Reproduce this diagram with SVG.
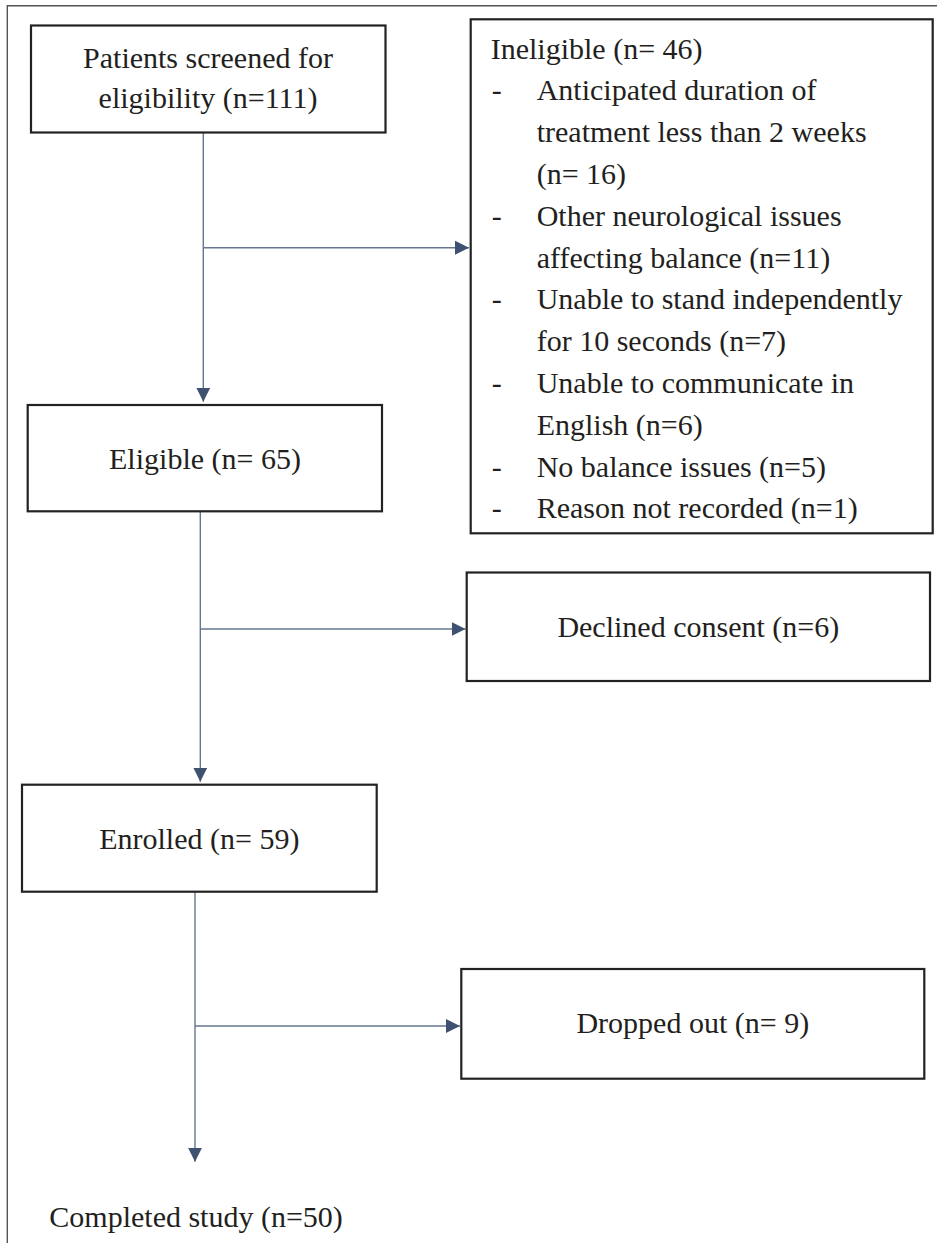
<svg xmlns="http://www.w3.org/2000/svg" width="937" height="1243" viewBox="0 0 937 1243">
<style>
.box{fill:#fff;stroke:#222;stroke-width:2.2}
.t{font-family:"Liberation Serif","Times New Roman",serif;font-size:30px;fill:#231f20}
.c{text-anchor:middle}
.con{fill:none;stroke:#66768f;stroke-width:1.4}
</style>
<defs>
<marker id="ah" viewBox="0 0 14 14" refX="14" refY="7" markerWidth="14" markerHeight="14" markerUnits="userSpaceOnUse" orient="auto">
<path d="M0,0 L14,7 L0,14 z" fill="#3f5170"/>
</marker>
</defs>
<rect width="937" height="1243" fill="#fff"/>
<path d="M7.3,1243 V5.7 H937" fill="none" stroke="#555" stroke-width="1.4"/>
<g id="connectors">
<path class="con" d="M203.3,132 V401.7" marker-end="url(#ah)"/>
<path class="con" d="M203.3,247.7 H469" marker-end="url(#ah)"/>
<path class="con" d="M200.3,511 V781.7" marker-end="url(#ah)"/>
<path class="con" d="M200.3,629 H465.5" marker-end="url(#ah)"/>
<path class="con" d="M195,891.7 V1161.7" marker-end="url(#ah)"/>
<path class="con" d="M195,1026 H460" marker-end="url(#ah)"/>
</g>
<g id="screened">
<rect class="box" x="31" y="25.5" width="354.5" height="107"/>
<text class="t c" x="208" y="68.3">Patients screened for</text>
<text class="t c" x="208" y="108.3">eligibility (n=111)</text>
</g>
<g id="ineligible">
<rect class="box" x="470.7" y="19.3" width="462" height="514"/>
<text class="t" x="490.7" y="59">Ineligible (n= 46)</text>
<text class="t" x="491.7" y="100.3">-</text>
<text class="t" x="536.7" y="100.3">Anticipated duration of</text>
<text class="t" x="536.7" y="142.1">treatment less than 2 weeks</text>
<text class="t" x="536.7" y="183.9">(n= 16)</text>
<text class="t" x="491.7" y="225.7">-</text>
<text class="t" x="536.7" y="225.7">Other neurological issues</text>
<text class="t" x="536.7" y="267.5">affecting balance (n=11)</text>
<text class="t" x="491.7" y="309.3">-</text>
<text class="t" x="536.7" y="309.3">Unable to stand independently</text>
<text class="t" x="536.7" y="351.1">for 10 seconds (n=7)</text>
<text class="t" x="491.7" y="392.9">-</text>
<text class="t" x="536.7" y="392.9">Unable to communicate in</text>
<text class="t" x="536.7" y="434.7">English (n=6)</text>
<text class="t" x="491.7" y="476.5">-</text>
<text class="t" x="536.7" y="476.5">No balance issues (n=5)</text>
<text class="t" x="491.7" y="518.3">-</text>
<text class="t" x="536.7" y="518.3">Reason not recorded (n=1)</text>
</g>
<g id="eligible">
<rect class="box" x="27.7" y="405" width="354.3" height="106.3"/>
<text class="t c" x="205" y="469">Eligible (n= 65)</text>
</g>
<g id="declined">
<rect class="box" x="466.7" y="572.5" width="463.3" height="108.5"/>
<text class="t c" x="698.3" y="636.7">Declined consent (n=6)</text>
</g>
<g id="enrolled">
<rect class="box" x="22" y="784.7" width="354.7" height="107"/>
<text class="t c" x="199.3" y="849">Enrolled (n= 59)</text>
</g>
<g id="dropped">
<rect class="box" x="461.3" y="969" width="463" height="109.7"/>
<text class="t c" x="692.8" y="1033.3">Dropped out (n= 9)</text>
</g>
<g id="completed">
<text class="t" x="49.3" y="1226.7">Completed study (n=50)</text>
</g>
</svg>
